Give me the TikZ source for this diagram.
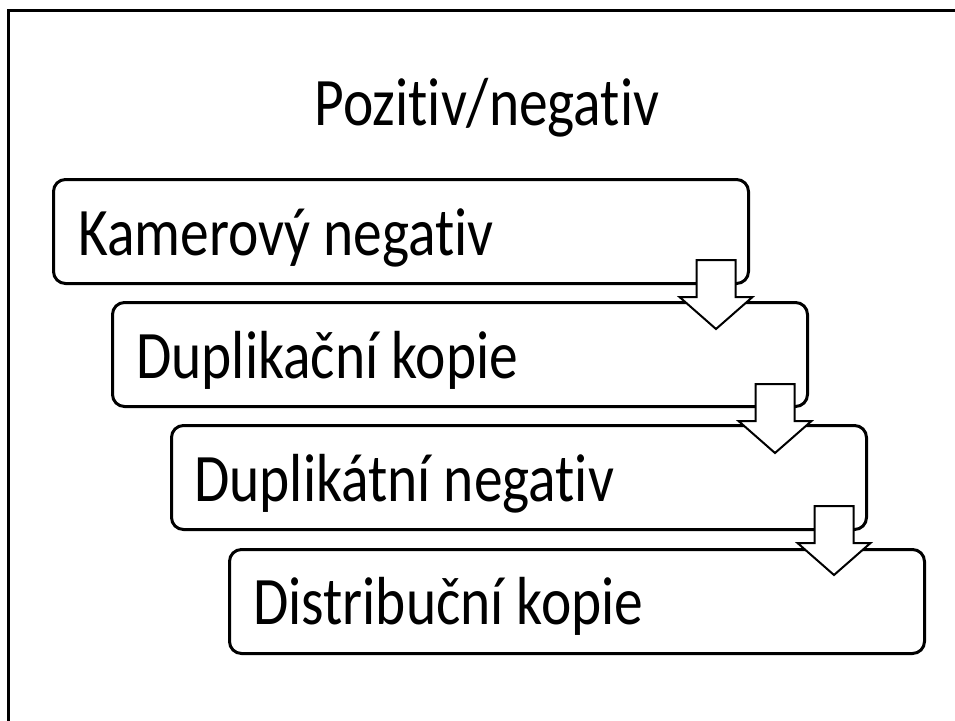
\documentclass[tikz,border=0pt]{standalone}
\usepackage{fontspec}
\setmainfont{Carlito}[FakeStretch=0.845, RawFeature=-liga]
\usetikzlibrary{calc}
\tikzset{
  x=1pt, y=-1pt,
  stepbox/.style={draw=black, line width=3pt, rounded corners=12pt, fill=white,
    minimum width=695pt, minimum height=104pt, inner sep=0pt, anchor=north west},
  steptext/.style={anchor=base west, inner sep=0pt, font=\fontsize{68}{72}\selectfont},
  blockarr/.style={draw=black, line width=2pt, fill=white, line join=miter},
}
\newcommand\blockarrowat[1]{%
  \draw[blockarr] ($(#1)+(-19.5,0)$) -- ($(#1)+(19.5,0)$) -- ($(#1)+(19.5,37)$)
    -- ($(#1)+(36.5,37)$) -- ($(#1)+(0,69)$) -- ($(#1)+(-36.5,37)$)
    -- ($(#1)+(-19.5,37)$) -- cycle;}
\begin{document}
\begin{tikzpicture}
\useasboundingbox (0,0) rectangle (955,720);
\fill[white] (0,0) rectangle (955,720);
\draw[line width=3pt] (8,725) -- (8,10) -- (960,10);
\node[anchor=base, inner sep=0pt, font=\fontsize{68}{72}\selectfont] (title) at (487,125) {Pozitiv/negativ};
\node[stepbox] (b1) at (52,178) {};
\node[stepbox] (b2) at (111,301) {};
\node[stepbox] (b3) at (170,424) {};
\node[stepbox] (b4) at (228,548) {};
\node[steptext] (t1) at ($(b1.north west)+(26,77)$) {Kamerový negativ};
\node[steptext] (t2) at ($(b2.north west)+(25,77)$) {Duplikační kopie};
\node[steptext] (t3) at ($(b3.north west)+(24,77)$) {Duplikátní negativ};
\node[steptext] (t4) at ($(b4.north west)+(25,76)$) {Distribuční kopie};
\coordinate (a1) at ($(b1.south east)+(-34,-25)$);
\coordinate (a2) at ($(b2.south east)+(-34,-24)$);
\coordinate (a3) at ($(b3.south east)+(-34,-25)$);
\blockarrowat{a1}
\blockarrowat{a2}
\blockarrowat{a3}
\end{tikzpicture}
\end{document}
